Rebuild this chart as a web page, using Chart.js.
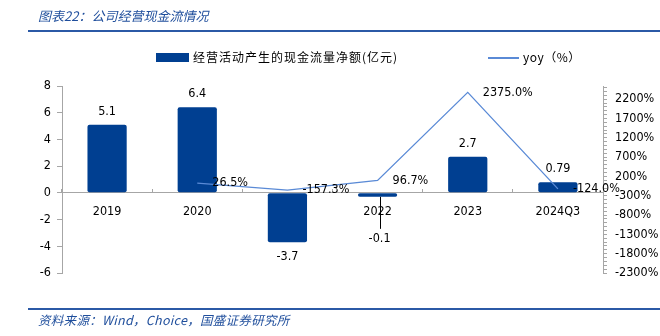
<!DOCTYPE html>
<html>
<head>
<meta charset="utf-8">
<script src="https://cdn.jsdelivr.net/npm/chart.js@4"></script>
<style>
  body { margin: 0; width: 660px; height: 336px; background: #fff; position: relative; overflow: hidden; }
  #chart { position: absolute; left: 0; top: 0; }
  .txt { position: absolute; white-space: nowrap; font-family: "Noto Sans CJK SC", sans-serif; }
  .title { left: 38px; top: 6px; font-size: 13px; font-style: italic; color: #1f4e9c; }
  .source { left: 38px; top: 310px; font-size: 12.5px; font-style: italic; color: #1f4e9c; letter-spacing: 0.3px; }
  .rule { position: absolute; left: 28px; width: 632px; height: 2px; background: #2b59a6; }
  .box { position: absolute; }
  .legend { font-size: 12px; color: #000; }
</style>
</head>
<body>
<canvas id="chart" width="660" height="336"></canvas>

<div class="txt title">图表22：公司经营现金流情况</div>
<div class="rule" style="top:30px"></div>

<div class="box" style="left:156px; top:53px; width:33px; height:9px; background:#003f91"></div>
<div class="txt legend" style="left:193px; top:48px; letter-spacing:1px">经营活动产生的现金流量净额(亿元)</div>
<div class="box" style="left:488px; top:57px; width:31px; height:1.5px; background:#5a8ad6"></div>
<div class="txt legend" style="left:523px; top:48px; letter-spacing:0.5px">yoy（%）</div>

<div class="rule" style="top:308px"></div>
<div class="txt source">资料来源：Wind，Choice，国盛证券研究所</div>

<script>
// data
const categories = ['2019', '2020', '2021', '2022', '2023', '2024Q3'];
const cashFlow = [5.1, 6.4, -3.7, -0.1, 2.7, 0.79];          // 亿元
const cashFlowLabels = ['5.1', '6.4', '-3.7', '-0.1', '2.7', '0.79'];
const yoy = [null, 26.5, -157.3, 96.7, 2375.0, -124.0];       // %
const leftTicks = [-6, -4, -2, 0, 2, 4, 6, 8];
const rightTicks = [-2300, -1800, -1300, -800, -300, 200, 700, 1200, 1700, 2200];

const barColor = '#003f91';
const lineColor = '#5a8ad6';
const axisColor = '#a6a6a6';
const tickFont = { family: "'DejaVu Sans Condensed', 'Liberation Sans', sans-serif", size: 12.5 };

// draw the value labels next to bars and line points
const valueLabels = {
    id: 'valueLabels',
    afterDatasetsDraw(chart) {
        const ctx = chart.ctx;
        ctx.save();
        ctx.font = `${tickFont.size}px ${tickFont.family}`;
        ctx.fillStyle = '#000';

        const barMeta = chart.getDatasetMeta(0);
        barMeta.data.forEach(function (bar, i) {
            const v = cashFlow[i];
            ctx.textAlign = 'center';
            if (v >= 0) {
                ctx.textBaseline = 'bottom';
                ctx.fillText(cashFlowLabels[i], bar.x, bar.y - 7);
            } else if (Math.abs(v) < 0.5) {
                // tiny bar: label pulled down with a leader line
                const bottom = Math.max(bar.y, bar.base);
                ctx.strokeStyle = '#000';
                ctx.lineWidth = 1;
                ctx.beginPath();
                ctx.moveTo(Math.round(bar.x) + 2.5, bottom);
                ctx.lineTo(Math.round(bar.x) + 2.5, bottom + 32);
                ctx.stroke();
                ctx.textBaseline = 'top';
                ctx.fillText(cashFlowLabels[i], bar.x + 2, bottom + 36);
            } else {
                ctx.textBaseline = 'top';
                ctx.fillText(cashFlowLabels[i], bar.x, bar.y + 8);
            }
        });

        const lineMeta = chart.getDatasetMeta(1);
        lineMeta.data.forEach(function (pt, i) {
            if (yoy[i] === null) return;
            ctx.textAlign = 'left';
            ctx.textBaseline = 'middle';
            ctx.fillText(yoy[i].toFixed(1) + '%', pt.x + 15, pt.y);
        });
        ctx.restore();
    }
};

const ctxChart = document.getElementById('chart').getContext('2d');
const chart = new Chart(ctxChart, {
    type: 'bar',
    data: {
        labels: categories,
        datasets: [{
            label: '经营活动产生的现金流量净额(亿元)',
            data: cashFlow,
            backgroundColor: barColor,
            borderRadius: 2,
            borderSkipped: false,
            minBarLength: 4,
            categoryPercentage: 1,
            barPercentage: 0.435,
            yAxisID: 'y',
            order: 2
        }, {
            type: 'line',
            label: 'yoy（%）',
            data: yoy,
            borderColor: lineColor,
            borderWidth: 1.3,
            pointRadius: 0,
            tension: 0,
            yAxisID: 'y1',
            order: 1
        }]
    },
    options: {
        responsive: false,
        animation: false,
        devicePixelRatio: 1,
        layout: { padding: { left: 0, right: 0, top: 86, bottom: 63 } },
        plugins: {
            legend: { display: false },
            tooltip: { enabled: false }
        },
        scales: {
            x: {
                position: { y: 0 },
                grid: { drawOnChartArea: false, tickLength: -4, color: axisColor },
                border: { color: axisColor },
                ticks: { color: '#000', font: tickFont, padding: 15, maxRotation: 0 }
            },
            y: {
                position: 'left',
                min: -6,
                max: 8,
                afterBuildTicks: function (scale) {
                    scale.ticks = leftTicks.map(v => ({ value: v }));
                },
                afterFit: function (scale) { scale.width = 62; },
                grid: { drawOnChartArea: false, tickLength: 5, color: axisColor },
                border: { color: axisColor },
                ticks: { color: '#000', font: tickFont, padding: 6 }
            },
            y1: {
                position: 'right',
                min: -2300,
                max: 2540,
                afterBuildTicks: function (scale) {
                    // minor ticks every 100, labels only on the 500 steps
                    const t = [];
                    for (let v = -2300; v <= 2500; v += 100) t.push({ value: v });
                    scale.ticks = t;
                },
                afterFit: function (scale) { scale.width = 57; },
                grid: { drawOnChartArea: false, tickLength: 4, color: axisColor },
                border: { color: axisColor },
                ticks: {
                    color: '#000',
                    font: tickFont,
                    padding: 8,
                    autoSkip: false,
                    callback: function (v) {
                        return rightTicks.includes(v) ? v + '%' : '';
                    }
                }
            }
        }
    },
    plugins: [valueLabels]
});
</script>
</body>
</html>
